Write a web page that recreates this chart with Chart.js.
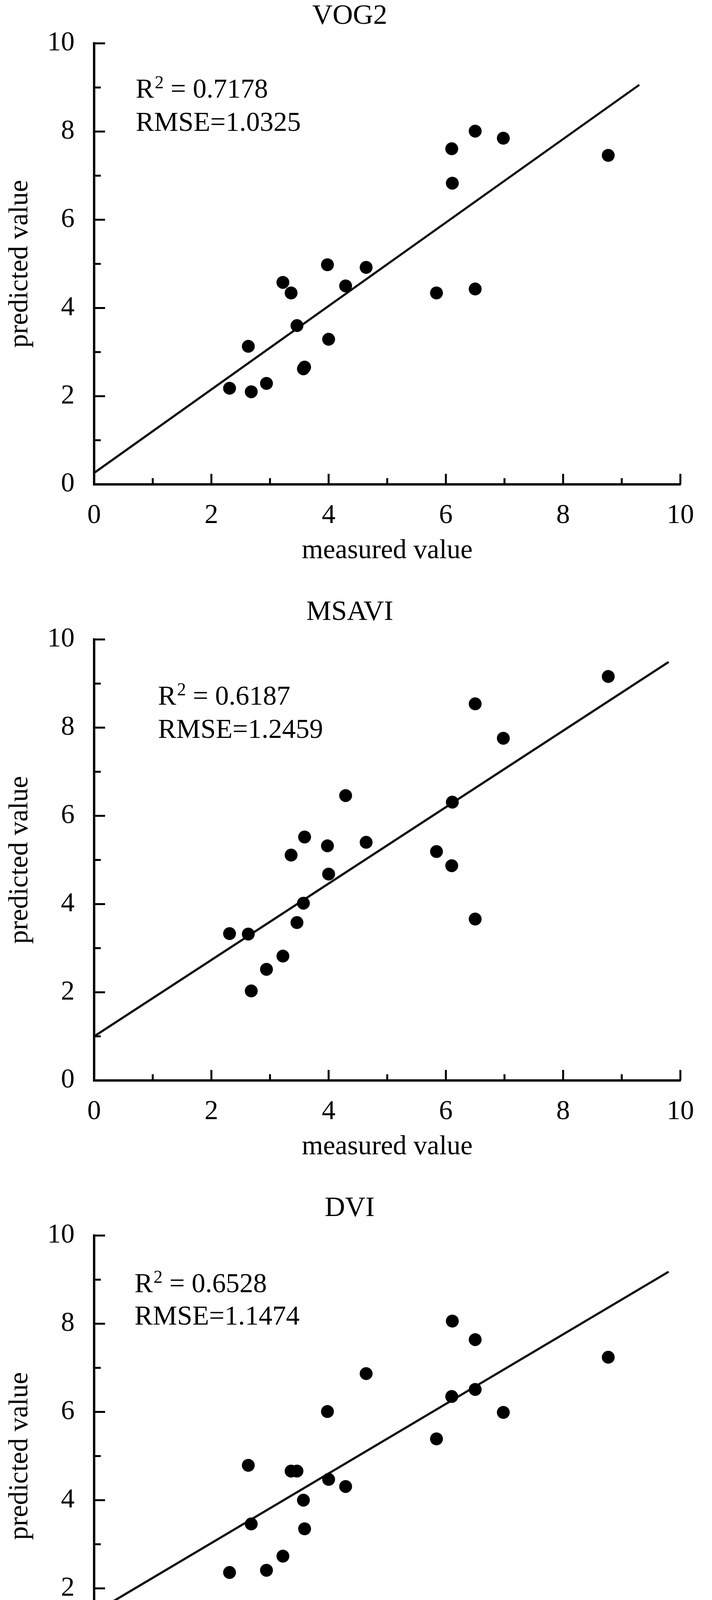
<!DOCTYPE html>
<html>
<head>
<meta charset="utf-8">
<title>measured vs predicted value</title>
<script src="https://cdn.jsdelivr.net/npm/chart.js@4.4.1/dist/chart.umd.min.js"></script>
<style>
  html, body { margin: 0; padding: 0; background: #fff; overflow: hidden; }
  canvas { display: block; }
</style>
</head>
<body>
<canvas id="chartVog2" width="1823" height="1526"></canvas>
<canvas id="chartMsavi" width="1823" height="1526"></canvas>
<canvas id="chartDvi" width="1823" height="1469"></canvas>
<script>
// measured values (same samples in all three panels)
const measured = [2.31, 2.63, 2.68, 2.94, 3.22, 3.36, 3.46, 3.57, 3.59, 3.98,
                  4.00, 4.29, 4.64, 5.84, 6.10, 6.11, 6.50, 6.50, 6.98, 8.77];

// predicted values per index
const predVog2  = [2.18, 3.13, 2.10, 2.29, 4.58, 4.34, 3.60, 2.62, 2.66, 4.98,
                   3.29, 4.50, 4.92, 4.34, 7.61, 6.83, 8.01, 4.43, 7.85, 7.46];
const predMsavi = [3.33, 3.32, 2.03, 2.52, 2.82, 5.11, 3.58, 4.02, 5.52, 5.32,
                   4.68, 6.46, 5.40, 5.19, 4.87, 6.31, 8.54, 3.66, 7.76, 9.16];
const predDvi   = [2.36, 4.79, 3.46, 2.41, 2.73, 4.66, 4.66, 4.00, 3.35, 6.01,
                   4.47, 4.31, 6.87, 5.39, 6.35, 8.06, 7.64, 6.51, 5.99, 7.24];

// fitted line end points [x, y] as drawn
const fitVog2  = [[0, 0.26], [9.3, 9.06]];
const fitMsavi = [[0, 1.00], [9.8, 9.49]];
const fitDvi   = [[0, 1.45], [9.8, 9.18]];

const r2Values   = ['0.7178', '0.6187', '0.6528'];
const rmseValues = ['1.0325', '1.2459', '1.1474'];

const axisLabels = [0, 2, 4, 6, 8, 10];
const tickMarks  = [1, 2, 3, 4, 5, 6, 7, 8, 9, 10];

const SERIF = '"Liberation Serif", "Times New Roman", serif';

// small inward tick marks, long on labelled values
const innerTicks = {
    id: 'innerTicks',
    afterDraw(chart) {
        const {ctx, chartArea, scales: {x, y}} = chart;
        ctx.save();
        ctx.strokeStyle = '#000';
        ctx.lineWidth = 5;
        ctx.beginPath();
        tickMarks.forEach(v => {
            const major = v % 2 === 0;
            const px = x.getPixelForValue(v);
            ctx.moveTo(px, chartArea.bottom);
            ctx.lineTo(px, chartArea.bottom - (major ? 27 : 16));
            const py = y.getPixelForValue(v);
            ctx.moveTo(chartArea.left, py);
            ctx.lineTo(chartArea.left + (major ? 28 : 17), py);
        });
        ctx.stroke();
        ctx.restore();
    }
};

// R^2 and RMSE text block
const statsText = {
    id: 'statsText',
    afterDatasetsDraw(chart, args, opts) {
        const {ctx, scales: {x, y}} = chart;
        const left = x.getPixelForValue(opts.at[0]);
        const line1 = y.getPixelForValue(opts.at[1]);
        const line2 = y.getPixelForValue(opts.at[2]);
        ctx.save();
        ctx.fillStyle = '#000';
        ctx.textBaseline = 'alphabetic';
        ctx.textAlign = 'left';
        ctx.font = '70px ' + SERIF;
        ctx.fillText('R', left, line1);
        let cx = left + ctx.measureText('R').width + 2;
        ctx.font = '46px ' + SERIF;
        ctx.fillText('2', cx, line1 - 24);
        cx += ctx.measureText('2').width;
        ctx.font = '70px ' + SERIF;
        ctx.fillText(' = ' + opts.r2, cx, line1);
        ctx.fillText('RMSE=' + opts.rmse, left, line2);
        ctx.restore();
    }
};

const whiteBg = {
    id: 'whiteBg',
    beforeDraw(chart) {
        const {ctx, width, height} = chart;
        ctx.save();
        ctx.fillStyle = '#fff';
        ctx.fillRect(0, 0, width, height);
        ctx.restore();
    }
};

function makeAxis(titleText, isX, boxSize, titleGap) {
    return {
        type: 'linear',
        min: 0,
        max: 10,
        afterBuildTicks: s => { s.ticks = axisLabels.map(v => ({value: v})); },
        afterFit: s => {
            if (isX) s.height = boxSize;
            else s.width = boxSize;
        },
        ticks: {
            color: '#000',
            font: {family: SERIF, size: 70, lineHeight: 1},
            padding: isX ? 46 : 50,
            maxRotation: 0,
            autoSkip: false
        },
        grid: {display: false, drawTicks: false},
        border: {display: true, color: '#000', width: 6},
        title: {
            display: true,
            text: titleText,
            color: '#000',
            font: {family: SERIF, size: 70, lineHeight: 1},
            padding: {top: 0, bottom: titleGap}
        }
    };
}

function makeChart(id, name, predicted, fit, r2, rmse, at, xBox) {
    const points = measured.map((m, i) => ({x: m, y: predicted[i]}));
    return new Chart(document.getElementById(id), {
        type: 'scatter',
        data: {
            datasets: [
                {
                    data: points,
                    pointRadius: 16.5,
                    pointBackgroundColor: '#000',
                    pointBorderWidth: 0
                },
                {
                    data: fit.map(p => ({x: p[0], y: p[1]})),
                    showLine: true,
                    borderColor: '#111',
                    borderWidth: 5.5,
                    pointRadius: 0
                }
            ]
        },
        options: {
            responsive: false,
            animation: false,
            layout: {padding: {left: 17, right: 49, top: 0, bottom: 0}},
            plugins: {
                legend: {display: false},
                tooltip: {enabled: false},
                title: {
                    display: true,
                    text: name,
                    color: '#000',
                    font: {family: SERIF, size: 72, weight: 'normal', lineHeight: 1},
                    padding: {top: 6, bottom: 33}
                },
                statsText: {r2: r2, rmse: rmse, at: at}
            },
            scales: {
                x: makeAxis('measured value', true, xBox, xBox - 206),
                y: makeAxis('predicted value', false, 224, 0)
            }
        },
        plugins: [whiteBg, innerTicks, statsText]
    });
}

makeChart('chartVog2', 'VOG2', predVog2, fitVog2, r2Values[0], rmseValues[0], [0.71, 8.77, 8.02], 286);
makeChart('chartMsavi', 'MSAVI', predMsavi, fitMsavi, r2Values[1], rmseValues[1], [1.09, 8.52, 7.77], 286);
makeChart('chartDvi', 'DVI', predDvi, fitDvi, r2Values[2], rmseValues[2], [0.69, 8.72, 7.98], 229);
</script>
</body>
</html>
